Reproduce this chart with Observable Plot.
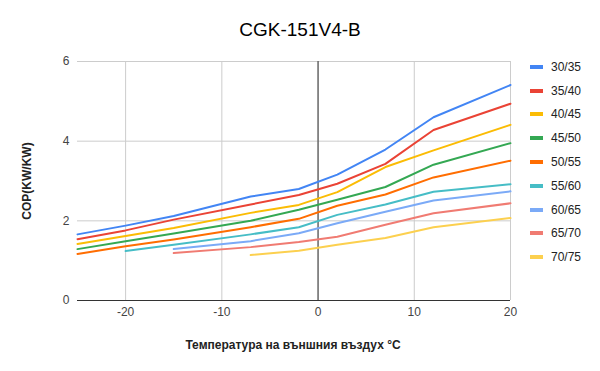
<!DOCTYPE html>
<html><head><meta charset="utf-8">
<script src="https://cdn.jsdelivr.net/npm/d3@7"></script>
<script src="https://cdn.jsdelivr.net/npm/@observablehq/plot@0.6"></script>
<style>
body{margin:0;background:#fff;font-family:"Liberation Sans",Arial,sans-serif;}
#wrap{position:relative;width:600px;height:371px;overflow:hidden;}
#title{position:absolute;left:0;top:19px;width:600px;text-align:center;font-size:19px;color:#000;}
#ytitle{position:absolute;left:27px;top:181px;transform:translate(-50%,-50%) rotate(-90deg);font-size:12px;font-weight:bold;color:#222;white-space:nowrap;}
#xtitle{position:absolute;left:293px;top:345px;transform:translate(-50%,-50%);font-size:12px;font-weight:bold;color:#222;white-space:nowrap;}
#legend{position:absolute;left:530px;top:55px;font-size:12px;color:#222;}
.li{height:23.8px;display:flex;align-items:center;}
.sw{width:13px;height:4px;margin-right:8px;}
</style></head><body>
<div id="wrap">
<div id="chart"></div>
<div id="title">CGK-151V4-B</div>
<div id="ytitle">COP(KW/KW)</div>
<div id="xtitle">Температура на външния въздух °C</div>
<div id="legend"></div>
</div>
<script>
const temps = [-25, -20, -15, -7, -2, 2, 7, 12, 20];
const seriesNames = ["30/35","35/40","40/45","45/50","50/55","55/60","60/65","65/70","70/75"];
const seriesColors = ["#4285F4","#EA4335","#FBBC04","#34A853","#FF6D01","#46BDC6","#7BAAF7","#F07B72","#FCD04F"];
const cop_30_35 = [1.66, 1.88, 2.12, 2.61, 2.80, 3.16, 3.79, 4.60, 5.41];
const cop_35_40 = [1.54, 1.76, 2.03, 2.41, 2.65, 2.93, 3.43, 4.28, 4.94];
const cop_40_45 = [1.42, 1.62, 1.82, 2.20, 2.40, 2.72, 3.35, 3.77, 4.41];
const cop_45_50 = [1.29, 1.49, 1.68, 2.00, 2.28, 2.53, 2.85, 3.41, 3.95];
const cop_50_55 = [1.17, 1.36, 1.53, 1.84, 2.05, 2.38, 2.66, 3.09, 3.51];
const cop_55_60 = [null, 1.24, 1.40, 1.66, 1.84, 2.15, 2.41, 2.73, 2.92];
const cop_60_65 = [null, null, 1.29, 1.49, 1.69, 1.94, 2.23, 2.51, 2.74];
const cop_65_70 = [null, null, 1.19, 1.34, 1.47, 1.60, 1.90, 2.19, 2.44];
const cop_70_75 = [null, null, null, 1.14, 1.25, 1.40, 1.57, 1.84, 2.07];
const xTicks = [-20, -10, 0, 10, 20];
const yTicks = [0, 2, 4, 6];

const allSeries = [cop_30_35, cop_35_40, cop_40_45, cop_45_50, cop_50_55, cop_55_60, cop_60_65, cop_65_70, cop_70_75];
const rows = [];
allSeries.forEach((vals, i) => vals.forEach((v, j) => {
  if (v != null) rows.push({series: seriesNames[i], t: temps[j], cop: v});
}));

const chart = Plot.plot({
  width: 600, height: 371,
  marginLeft: 77, marginRight: 90, marginTop: 61, marginBottom: 71,
  style: {fontFamily: '"Liberation Sans", Arial, sans-serif', fontSize: "12px", color: "#444", background: "transparent"},
  x: {domain: [-25, 20], ticks: xTicks},
  y: {domain: [0, 6], ticks: yTicks},
  color: {domain: seriesNames, range: seriesColors},
  marks: [
    Plot.gridY(yTicks, {stroke: "#cccccc", strokeOpacity: 1}),
    Plot.gridX(xTicks, {stroke: "#cccccc", strokeOpacity: 1}),
    Plot.ruleX([0], {stroke: "#333"}),
    Plot.ruleY([0], {stroke: "#333"}),
    Plot.axisX(xTicks, {tickSize: 0, tickPadding: 7, label: null, fill: "#444", tickFormat: d => String(d)}),
    Plot.axisY(yTicks, {tickSize: 0, tickPadding: 8, label: null, fill: "#444", tickFormat: d => String(d)}),
    Plot.line(rows, {x: "t", y: "cop", z: "series", stroke: "series", strokeWidth: 2, strokeLinejoin: "round"})
  ]
});
document.getElementById("chart").appendChild(chart);

const leg = document.getElementById("legend");
seriesNames.forEach((n, i) => {
  const d = document.createElement("div");
  d.className = "li";
  d.innerHTML = `<span class="sw" style="background:${seriesColors[i]}"></span><span>${n}</span>`;
  leg.appendChild(d);
});
</script>
</body></html>
